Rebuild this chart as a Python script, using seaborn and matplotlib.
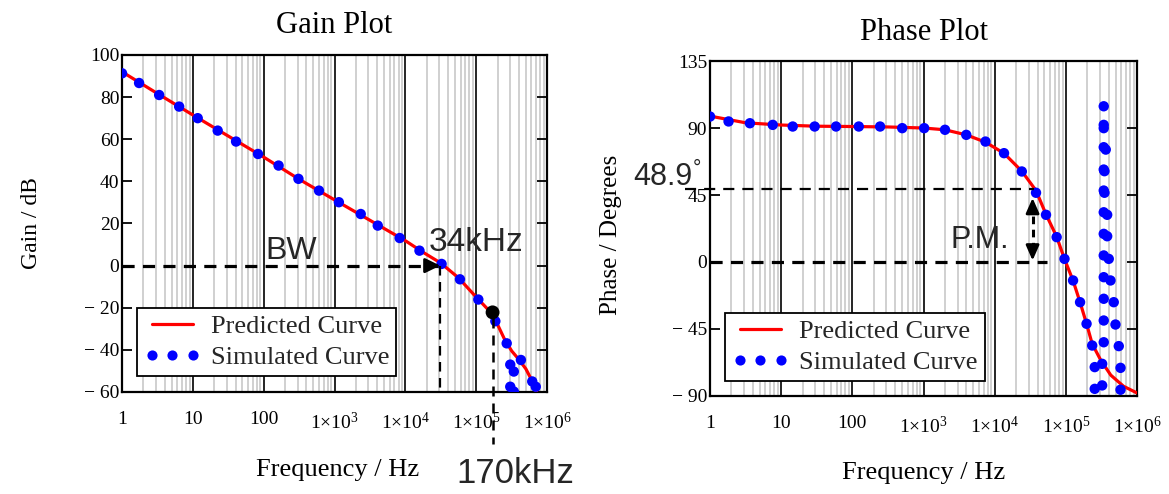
import numpy as np
import pandas as pd
import matplotlib
matplotlib.use('Agg')
import matplotlib.pyplot as plt
import seaborn as sns
from matplotlib.ticker import LogLocator, FixedLocator, FixedFormatter, NullFormatter
from matplotlib.lines import Line2D

# ---------------- data ----------------
gain_line_freq = [1.0, 3.16, 10, 31.6, 100, 316, 1000, 3162, 10000, 17800, 31600,
                  56200, 100000, 126000, 158000, 200000, 251000, 316000, 398000,
                  501000, 631000, 708000, 800000]
gain_line_db = [92, 81.7, 71.5, 61.5, 51.5, 41, 31.2, 21.5, 11.8, 6.3, 1.2,
                -5.8, -15, -18.5, -22, -28, -35, -40.5, -44.5, -49, -55.5, -60, -64]

gain_sim_freq = [1.0, 1.74, 3.34, 6.4, 11.7, 22.4, 40.7, 83, 162, 309, 603, 1150,
                 2340, 4070, 8300, 15800, 32400, 58900, 107000, 186000, 269000,
                 427000, 302000, 339000, 302000, 339000, 617000, 692000]
gain_sim_db = [91.3, 86.7, 81, 75.5, 70, 64.1, 58.9, 53, 47.5, 41.2, 35.6, 30.1,
               24.5, 19, 13.1, 7.1, 0.8, -6.5, -16.1, -26.4, -36.9,
               -44.8, -47, -50.3, -57.5, -59.8, -55, -57.5]

marker_freq = [170000]
marker_db = [-22.2]

phase_line_freq = [1.0, 3.16, 10, 31.6, 100, 316, 1000, 2000, 3980, 7410, 13500,
                   24000, 38000, 52500, 74100, 95500, 126000, 158000, 195000,
                   234000, 309000, 427000, 646000, 1000000]
phase_line_deg = [98, 93.5, 92, 91.2, 91, 90.7, 90, 88.8, 85.4, 80.5, 73,
                  61, 48, 32, 17, 2, -12.5, -27, -41.5, -55, -66, -76, -83.5, -88]

phase_sim_freq = [1.0, 1.82, 3.63, 7.6, 14.5, 29.5, 58.9, 123, 245, 501, 1020, 2000,
                  3980, 7410, 13500, 24000, 38000, 52500, 74100, 95500, 126000,
                  158000, 195000, 234000, 254000, 254000,
                  340000, 340000, 340000, 340000, 340000, 340000, 340000, 340000,
                  340000, 340000, 340000, 340000, 340000,
                  363000, 348000, 348000, 380000, 380000, 400000, 423000, 470000,
                  497000, 553000, 585000, 585000, 323000, 323000]
phase_sim_deg = [97.7, 94.4, 93.2, 92.1, 91, 91, 91, 91, 91, 89.9, 89.9, 88.8,
                 85.4, 80.9, 73.1, 60.8, 46.5, 31.7, 16.7, 2.1, -12.4,
                 -27, -41.5, -56.1, -70.6, -85.2,
                 104.6, 92.1, 89.9, 77.1, 62.1, 48.0, 33.4, 18.9,
                 4.4, -10.2, -24.7, -39.3, -53.9,
                 75.5, 61.0, 46.5, 31.7, 17.3, 2.1, -12.4, -27.0,
                 -42.0, -56.5, -71.1, -85.8, -68.4, -82.9]

xtick_vals = [1, 10, 100, 1e3, 1e4, 1e5, 1e6]
xtick_labels = ['1', '10', '100',
                r'1×10$\mathregular{^{3}}$', r'1×10$\mathregular{^{4}}$',
                r'1×10$\mathregular{^{5}}$', r'1×10$\mathregular{^{6}}$']
gain_yticks = [100, 80, 60, 40, 20, 0, -20, -40, -60]
gain_ylabels = ['100', '80', '60', '40', '20', '0', '− 20', '− 40', '− 60']
phase_yticks = [135, 90, 45, 0, -45, -90]
phase_ylabels = ['135', '90', '45', '0', '− 45', '− 90']
legend_labels = ['Predicted Curve', 'Simulated Curve']

# ---------------- style ----------------
sns.set_theme(style='white')
plt.rcParams['font.family'] = ['Liberation Serif', 'DejaVu Serif']
plt.rcParams['mathtext.fontset'] = 'custom'
plt.rcParams['mathtext.rm'] = 'Liberation Serif'
plt.rcParams['mathtext.it'] = 'Liberation Serif:italic'
plt.rcParams['mathtext.bf'] = 'Liberation Serif:bold'
SANS = ['Liberation Sans', 'DejaVu Sans']

fig = plt.figure(figsize=(11.69, 4.94), dpi=100)
ax1 = fig.add_axes([0.1044, 0.2065, 0.3636, 0.6822])
ax2 = fig.add_axes([0.6074, 0.1984, 0.3653, 0.6781])


def style_axes(ax, yticks, ylabels, ylim):
    ax.set_xscale('log')
    ax.set_xlim(1, 1e6)
    ax.set_ylim(*ylim)
    ax.xaxis.set_major_locator(FixedLocator(xtick_vals))
    ax.xaxis.set_major_formatter(FixedFormatter(xtick_labels))
    ax.xaxis.set_minor_locator(LogLocator(base=10, subs=np.arange(2, 10), numticks=100))
    ax.xaxis.set_minor_formatter(NullFormatter())
    ax.grid(True, which='minor', axis='x', color='#c4c4c4', lw=1.1, zorder=0)
    ax.grid(True, which='major', axis='x', color='black', lw=1.2, zorder=0)
    ax.grid(False, axis='y')
    ax.set_axisbelow(True)
    ax.tick_params(axis='x', which='both', length=0, labelsize=14, pad=14, colors='black')
    ax.yaxis.set_major_locator(FixedLocator(yticks))
    ax.yaxis.set_major_formatter(FixedFormatter(ylabels))
    ax.tick_params(axis='y', direction='in', length=7, width=1.3, left=True, right=True,
                   labelsize=14, pad=2, colors='black')
    for s in ax.spines.values():
        s.set_visible(True)
        s.set_color('black')
        s.set_linewidth(1.6)


def add_legend(ax, anchor):
    handles = [Line2D([], [], color='red', lw=2.3),
               Line2D([], [], color='blue', marker='o', ls='none', markersize=7.3,
                      markeredgewidth=0)]
    leg = ax.legend(handles, legend_labels, loc='lower left', bbox_to_anchor=anchor,
                    borderaxespad=0, numpoints=3, handlelength=2.15, handletextpad=0.4,
                    labelspacing=0.28, borderpad=0.26, fontsize=19, frameon=True,
                    fancybox=False, edgecolor='black', framealpha=1, facecolor='white')
    leg.get_frame().set_linewidth(1.3)
    leg.set_zorder(10)


style_axes(ax1, gain_yticks, gain_ylabels, (-60, 100))
style_axes(ax2, phase_yticks, phase_ylabels, (-90, 135))

# ---------------- gain plot ----------------
sns.lineplot(x=gain_line_freq, y=gain_line_db, ax=ax1, color='red', lw=2.3,
             sort=False, estimator=None, legend=False, zorder=3)
sns.scatterplot(x=gain_sim_freq, y=gain_sim_db, ax=ax1, color='blue', s=56,
                edgecolor='none', linewidth=0, legend=False, zorder=4)
sns.scatterplot(x=marker_freq, y=marker_db, ax=ax1, color='black', s=100,
                edgecolor='none', linewidth=0, legend=False, zorder=5)

bw_freq = 31000
ax1.plot([1, bw_freq * 0.93], [0, 0], color='black', lw=2.3, ls=(0, (3.8, 2.6)), zorder=6)
ax1.annotate('', xy=(bw_freq, 0), xytext=(bw_freq * 0.8, 0),
             arrowprops=dict(arrowstyle='-|>,head_length=0.45,head_width=0.22', color='black',
                             lw=2, shrinkA=0, shrinkB=0, mutation_scale=20), zorder=6)
ax1.plot([bw_freq, bw_freq], [0, -60], color='black', lw=1.6, ls=(0, (4.3, 2.9)), zorder=6)
ax1.plot([marker_freq[0], marker_freq[0]], [-25, -84.5], color='black', lw=1.8,
         ls=(0, (4.0, 2.8)), zorder=6, clip_on=False)

ax1.text(105, 3.3, 'BW', fontsize=23, family=SANS, va='baseline', ha='left')
ax1.text(21000, 7.1, '34kHz', fontsize=24, family=SANS, va='baseline', ha='left')
ax1.text(52000, -103, '170kHz', fontsize=25, family=SANS, va='baseline', ha='left',
         clip_on=False)

add_legend(ax1, (0.035, 0.047))
ax1.set_title('Gain Plot', fontsize=22, pad=16, color='black')
ax1.set_ylabel('Gain / dB', fontsize=17, color='black')
ax1.yaxis.set_label_coords(-0.188, 0.5)
ax1.set_xlabel('Frequency / Hz', fontsize=19, color='black')
ax1.xaxis.set_label_coords(0.508, -0.2)

# ---------------- phase plot ----------------
sns.lineplot(x=phase_line_freq, y=phase_line_deg, ax=ax2, color='red', lw=2.3,
             sort=False, estimator=None, legend=False, zorder=3)
sns.scatterplot(x=phase_sim_freq, y=phase_sim_deg, ax=ax2, color='blue', s=56,
                edgecolor='none', linewidth=0, legend=False, zorder=4)

pm_freq = 34000
ax2.plot([0.45, 36000], [48.9, 48.9], color='black', lw=1.6, ls=(0, (5.0, 3.6)),
         zorder=6, clip_on=False)
ax2.plot([1, 55000], [0, 0], color='black', lw=2.3, ls=(0, (3.8, 2.6)), zorder=6)
ax2.plot([pm_freq, pm_freq], [8, 36], color='black', lw=2.2, ls=(0, (2.5, 1.8)), zorder=6)
for tip, tail in ((43, 35), (1, 9)):
    ax2.annotate('', xy=(pm_freq, tip), xytext=(pm_freq, tail),
                 arrowprops=dict(arrowstyle='-|>,head_length=0.5,head_width=0.22',
                                 color='black', lw=2, shrinkA=0, shrinkB=0,
                                 mutation_scale=18), zorder=6)

ax2.text(0.0826, 51.4, '48.9', fontsize=22, family=SANS, va='baseline', ha='left',
         clip_on=False)
ax2.text(0.58, 59.5, '°', fontsize=15, family=SANS, va='baseline', ha='left',
         clip_on=False)
ax2.text(2370, 9.7, 'P.M.', fontsize=22, family=SANS, va='baseline', ha='left')

add_legend(ax2, (0.035, 0.045))
ax2.set_title('Phase Plot', fontsize=22, pad=15, color='black')
ax2.set_ylabel('Phase / Degrees', fontsize=18, color='black')
ax2.yaxis.set_label_coords(-0.206, 0.48)
ax2.set_xlabel('Frequency / Hz', fontsize=19, color='black')
ax2.xaxis.set_label_coords(0.5, -0.197)

fig.savefig('out.png', dpi=100, facecolor='white')
